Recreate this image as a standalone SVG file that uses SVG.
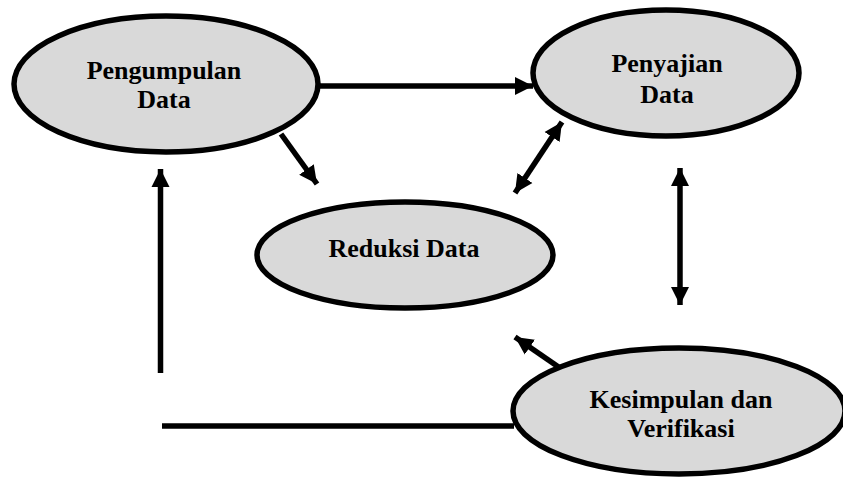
<svg xmlns="http://www.w3.org/2000/svg" width="843" height="480" viewBox="0 0 843 480">
<style>
.node ellipse{fill:#d9d9d9;stroke:#000;stroke-width:5.5}
.node text{font-family:'Liberation Serif','Times New Roman',serif;font-weight:bold;font-size:26px;fill:#000;text-anchor:middle}
.conn line{stroke:#000;stroke-width:5.5;fill:none}
</style>
<defs>
<marker id="ah" markerUnits="userSpaceOnUse" markerWidth="20" markerHeight="20" viewBox="0 0 20 20" refX="18" refY="10" orient="auto-start-reverse">
<path d="M0,1 L18,10 L0,19 Z" fill="#000"/>
</marker>
</defs>
<rect width="843" height="480" fill="#fff"/>
<g id="connectors" class="conn">
<line x1="318" y1="86" x2="533" y2="86" marker-end="url(#ah)"/>
<line x1="281" y1="134" x2="317" y2="184" marker-end="url(#ah)"/>
<line x1="562" y1="122" x2="515" y2="193" marker-start="url(#ah)" marker-end="url(#ah)"/>
<line x1="680" y1="168" x2="680" y2="305" marker-start="url(#ah)" marker-end="url(#ah)"/>
<line x1="560" y1="368" x2="515" y2="337" marker-end="url(#ah)"/>
<line x1="160.5" y1="373" x2="160.5" y2="169" marker-end="url(#ah)"/>
<line x1="162" y1="426" x2="514" y2="426"/>
</g>
<g id="pengumpulan" class="node">
<ellipse cx="166" cy="84" rx="152" ry="68"/>
<text x="164" y="79">Pengumpulan</text>
<text x="164" y="108">Data</text>
</g>
<g id="penyajian" class="node">
<ellipse cx="666" cy="73" rx="133" ry="63"/>
<text x="667" y="72">Penyajian</text>
<text x="667" y="103">Data</text>
</g>
<g id="reduksi" class="node">
<ellipse cx="405" cy="255" rx="148" ry="53"/>
<text x="404" y="257">Reduksi Data</text>
</g>
<g id="kesimpulan" class="node">
<ellipse cx="679" cy="411" rx="166" ry="63"/>
<text x="681" y="408">Kesimpulan dan</text>
<text x="681" y="437">Verifikasi</text>
</g>
</svg>
